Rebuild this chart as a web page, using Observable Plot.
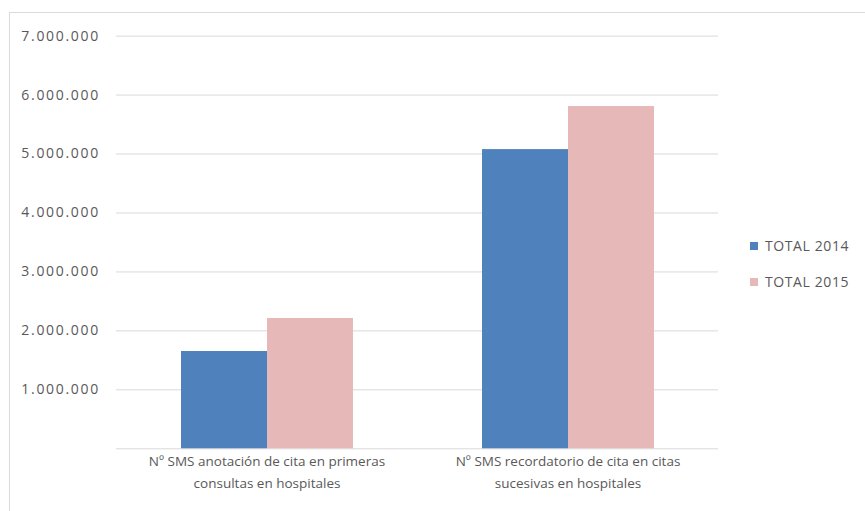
<!DOCTYPE html>
<html>
<head>
<meta charset="utf-8">
<script src="https://cdn.jsdelivr.net/npm/d3@7"></script>
<script src="https://cdn.jsdelivr.net/npm/@observablehq/plot@0.6"></script>
<style>
  body { margin: 0; background: #fff; }
  #wrap { position: relative; width: 865px; height: 511px; overflow: hidden; font-family: "Open Sans", sans-serif; }
  #chart { position: absolute; left: 0; top: 0; }
  #frame { position: absolute; z-index: 2; left: 9px; top: 12px; width: 900px; height: 600px; border-left: 1px solid #d9d9d9; border-top: 1px solid #d9d9d9; pointer-events: none; }
  #legend { position: absolute; z-index: 3; left: 750px; top: 235px; font-size: 14px; letter-spacing: 0.6px; color: #595959; }
  #legend .item { display: flex; align-items: center; height: 21px; margin-bottom: 15px; }
  #legend .sw { width: 8px; height: 8px; margin-right: 7px; }
  .ytl text { letter-spacing: 1.7px; }
</style>
</head>
<body>
<div id="wrap">
  <div id="chart"></div>
  <div id="frame"></div>
  <div id="legend"></div>
</div>
<script>
const categories = [
  "Nº SMS anotación de cita en primeras\nconsultas en hospitales",
  "Nº SMS recordatorio de cita en citas\nsucesivas en hospitales"
];
const seriesNames = ["TOTAL 2014", "TOTAL 2015"];
const total2014 = [1650000, 5075000];
const total2015 = [2210000, 5805000];
const yTicks = [1000000, 2000000, 3000000, 4000000, 5000000, 6000000, 7000000];
const colors = ["#4F81BD", "#E6B9B8"];

const data = [];
categories.forEach((c, i) => {
  data.push({cat: c, series: seriesNames[0], value: total2014[i]});
  data.push({cat: c, series: seriesNames[1], value: total2015[i]});
});

const locale = d3.formatLocale({decimal: ",", thousands: ".", grouping: [3], currency: ["", "€"]});
const fmt = locale.format(",d");

const chart = Plot.plot({
  width: 865,
  height: 511,
  marginLeft: 115,
  marginRight: 147,
  marginTop: 35.6,
  marginBottom: 62.7,
  style: {fontFamily: "Open Sans, sans-serif", fontSize: "13.5px", color: "#595959", background: "transparent"},
  fx: {domain: categories, padding: 0, label: null, axis: null},
  x: {domain: seriesNames, paddingInner: 0, paddingOuter: 0.74, axis: null},
  y: {domain: [0, 7000000], label: null},
  color: {domain: seriesNames, range: colors},
  marks: [
    Plot.gridY([0, ...yTicks], {stroke: "#d9d9d9", strokeOpacity: 1, strokeWidth: 1}),
    Plot.barY(data, {fx: "cat", x: "series", y: "value", fill: "series"}),
    Plot.axisY(yTicks, {tickSize: 0, tickPadding: 16.5, tickFormat: fmt, fontSize: 14, fill: "#595959", className: "ytl"}),
    Plot.text(categories, {fx: d => d, text: d => d, frameAnchor: "bottom", lineAnchor: "top", dy: 2.5, lineHeight: 1.58, fontSize: 13.5, fill: "#595959"})
  ]
});
document.getElementById("chart").appendChild(chart);

const legend = document.getElementById("legend");
seriesNames.forEach((s, i) => {
  const it = document.createElement("div");
  it.className = "item";
  const sw = document.createElement("span");
  sw.className = "sw";
  sw.style.background = colors[i];
  const t = document.createElement("span");
  t.textContent = s;
  it.appendChild(sw);
  it.appendChild(t);
  legend.appendChild(it);
});
</script>
</body>
</html>
